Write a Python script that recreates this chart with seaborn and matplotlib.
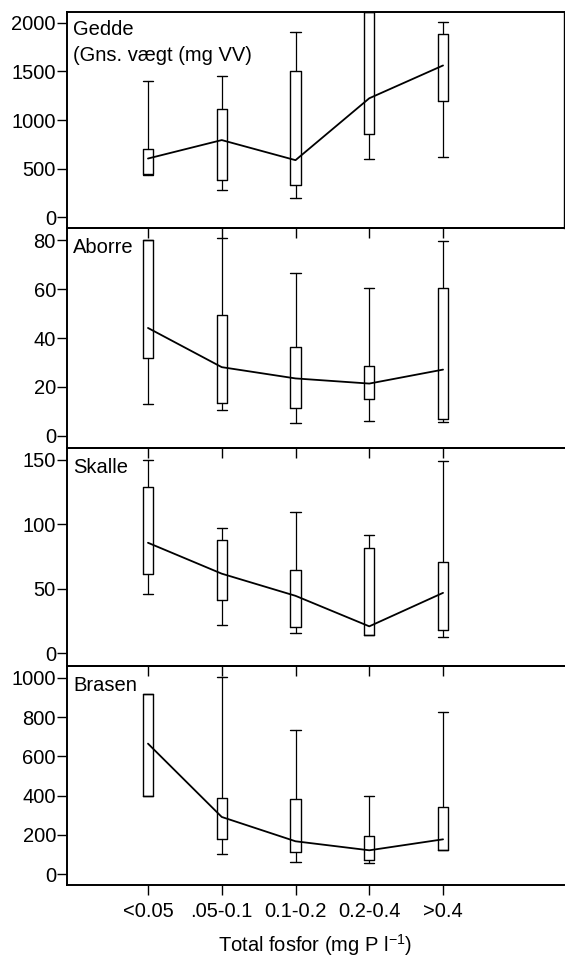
import matplotlib
matplotlib.use("Agg")
import matplotlib.pyplot as plt
import seaborn as sns
import numpy as np
import pandas as pd

# ---------------- data ----------------
categories = ["<0.05", ".05-0.1", "0.1-0.2", "0.2-0.4", ">0.4"]

gedde_whislo = [430, 283, 193, 593, 614]
gedde_q1     = [440, 379, 334, 855, 1197]
gedde_q3     = [700, 1117, 1503, 2110, 1883]
gedde_whishi = [1400, 1455, 1903, 2110, 2007]
gedde_mean   = [603, 793, 586, 1224, 1562]

aborre_whislo = [12.9, 10.8, 5.2, 6.1, 5.8]
aborre_q1     = [31.9, 13.6, 11.5, 15.3, 7.1]
aborre_q3     = [80.0, 49.5, 36.2, 28.5, 60.5]
aborre_whishi = [80.0, 80.7, 66.7, 60.3, 79.7]
aborre_mean   = [44.1, 28.1, 23.5, 21.4, 27.1]

skalle_whislo = [46.1, 21.9, 15.7, 14.0, 12.3]
skalle_q1     = [61.7, 41.2, 20.1, 14.1, 18.3]
skalle_q3     = [128.9, 88.0, 64.6, 81.3, 70.5]
skalle_whishi = [150.0, 97.2, 109.9, 92.1, 149.5]
skalle_mean   = [85.7, 61.7, 44.5, 20.8, 46.8]

brasen_whislo = [396, 100, 63, 56, 121]
brasen_q1     = [396, 177, 111, 73, 121]
brasen_q3     = [920, 388, 381, 192, 344]
brasen_whishi = [920, 1005, 735, 400, 828]
brasen_mean   = [665, 291, 167, 121, 177]

panel_titles = ["Gedde", "Aborre", "Skalle", "Brasen"]
subtitle = "(Gns. vægt (mg VV)"
y_ticks = [[0, 500, 1000, 1500, 2000], [0, 20, 40, 60, 80],
           [0, 50, 100, 150], [0, 200, 400, 600, 800, 1000]]
xlabel = r"Total fosfor (mg P l$^{\mathregular{-1}}$)"

# ---------------- style ----------------
sns.set_theme(style="white")
plt.rcParams["font.family"] = ["Liberation Sans", "DejaVu Sans"]
plt.rcParams["mathtext.fontset"] = "custom"
plt.rcParams["mathtext.rm"] = "Liberation Sans"
plt.rcParams["text.color"] = "black"
plt.rcParams["axes.labelcolor"] = "black"

W, H = 565, 958
fig = plt.figure(figsize=(W / 100, H / 100), dpi=100)

extents = [(12, 228), (228, 448), (448, 666), (666, 885)]
left_px, right_px = 67, 564
ylims = [(-113, 2113), (-4.9, 84.9), (-10, 159.3), (-56, 1061)]
title_y = [0.917, 0.91, 0.909, 0.913]

series = [
    (gedde_whislo, gedde_q1, gedde_q3, gedde_whishi, gedde_mean),
    (aborre_whislo, aborre_q1, aborre_q3, aborre_whishi, aborre_mean),
    (skalle_whislo, skalle_q1, skalle_q3, skalle_whishi, skalle_mean),
    (brasen_whislo, brasen_q1, brasen_q3, brasen_whishi, brasen_mean),
]

pos = list(range(len(categories)))
fs = 14.5

for i, ((top, bot), (wl, q1, q3, wh, mn)) in enumerate(zip(extents, series)):
    ax = fig.add_axes([left_px / W, 1 - bot / H, (right_px - left_px) / W, (bot - top) / H])
    ax.patch.set_alpha(0)
    stats = []
    for k in range(len(categories)):
        stats.append(dict(whislo=wl[k], q1=q1[k], med=mn[k], q3=q3[k], whishi=wh[k], fliers=[]))
    ax.bxp(stats, positions=pos, widths=0.14, capwidths=0.14, showfliers=False,
           boxprops=dict(color="black", linewidth=1.0),
           whiskerprops=dict(color="black", linewidth=0.9),
           capprops=dict(color="black", linewidth=1.0),
           medianprops=dict(linewidth=0), manage_ticks=False)
    df = pd.DataFrame({"x": pos, "y": mn})
    sns.lineplot(data=df, x="x", y="y", ax=ax, color="black", linewidth=1.3)
    ax.set_xlim(-1.098, 5.64)
    ax.set_ylim(*ylims[i])
    ax.set_yticks(y_ticks[i])
    ax.set_xticks(pos)
    if i == 3:
        ax.set_xticklabels(categories, fontsize=fs)
        ax.set_xlabel(xlabel, fontsize=fs, labelpad=8)
    else:
        ax.set_xticklabels([])
        ax.set_xlabel("")
    ax.set_ylabel("")
    ax.tick_params(axis="y", direction="out", length=7, width=1, pad=1, labelsize=fs,
                   left=True, colors="black")
    ax.tick_params(axis="x", direction="out", length=7, width=1, pad=5, labelsize=fs,
                   bottom=True, colors="black")
    for s in ["left", "bottom", "top"]:
        ax.spines[s].set_visible(True)
        ax.spines[s].set_color("black")
        ax.spines[s].set_linewidth(1.4)
    ax.spines["right"].set_visible(i == 0)
    ax.spines["right"].set_color("black")
    ax.spines["right"].set_linewidth(1.0)
    ax.text(0.012, title_y[i], panel_titles[i], transform=ax.transAxes,
            ha="left", va="center", fontsize=fs, color="black")
    if i == 0:
        ax.text(0.012, 0.80, subtitle, transform=ax.transAxes,
                ha="left", va="center", fontsize=fs, color="black")

fig.savefig("out.png", dpi=100)
